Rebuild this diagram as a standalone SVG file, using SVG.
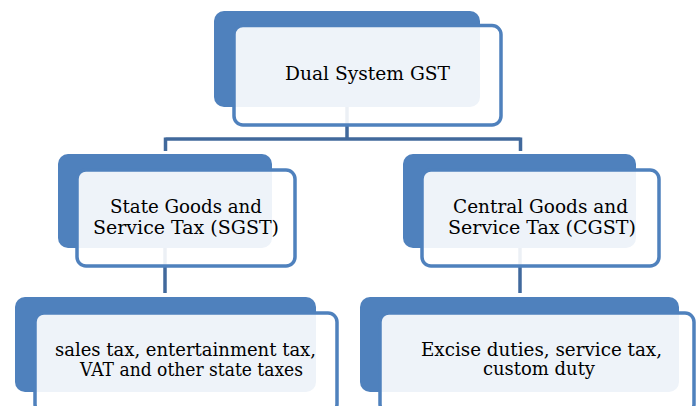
<svg xmlns="http://www.w3.org/2000/svg" width="696" height="406" viewBox="0 0 696 406">
<style>
.back{fill:#4F81BD;}
.front{fill:#FFFFFF;fill-opacity:0.9;stroke:#4F81BD;stroke-width:3.5;}
.conn{fill:none;stroke:#41699C;stroke-width:3.5;}
.lbl{font-family:"DejaVu Serif","Liberation Serif",serif;font-size:18px;fill:#000;}
</style>
<rect width="696" height="406" fill="#FFFFFF"/>
<g id="connectors">
<path class="conn" d="M347,107 V139 M165.5,139 H520.5 M165.5,137.5 V151 M520.5,137.5 V151"/>
<path class="conn" d="M165,248 V293"/>
<path class="conn" d="M520,248 V293"/>
</g>
<g id="gst">
<rect class="back" x="214" y="11" width="266" height="96" rx="10"/>
<rect class="front" x="234" y="25.5" width="267" height="99.5" rx="9"/>
<text class="lbl" x="285" y="80" textLength="165" lengthAdjust="spacingAndGlyphs">Dual System GST</text>
</g>
<g id="sgst">
<rect class="back" x="58" y="154" width="214" height="94" rx="10"/>
<rect class="front" x="77" y="170" width="218" height="96" rx="9"/>
<text class="lbl" x="110" y="213" textLength="152" lengthAdjust="spacingAndGlyphs">State Goods and</text>
<text class="lbl" x="93" y="234" textLength="186" lengthAdjust="spacingAndGlyphs">Service Tax (SGST)</text>
</g>
<g id="cgst">
<rect class="back" x="403" y="154" width="233" height="94" rx="10"/>
<rect class="front" x="422" y="170" width="237" height="96" rx="9"/>
<text class="lbl" x="453" y="213" textLength="175" lengthAdjust="spacingAndGlyphs">Central Goods and</text>
<text class="lbl" x="448" y="234" textLength="188" lengthAdjust="spacingAndGlyphs">Service Tax (CGST)</text>
</g>
<g id="state-taxes">
<rect class="back" x="15" y="297" width="301" height="95" rx="10"/>
<rect class="front" x="35" y="313" width="302" height="100" rx="9"/>
<text class="lbl" x="55" y="356" textLength="261" lengthAdjust="spacingAndGlyphs">sales tax, entertainment tax,</text>
<text class="lbl" x="80" y="376" textLength="223" lengthAdjust="spacingAndGlyphs">VAT and other state taxes</text>
</g>
<g id="central-taxes">
<rect class="back" x="360" y="297" width="319" height="95" rx="10"/>
<rect class="front" x="380" y="313" width="314" height="100" rx="9"/>
<text class="lbl" x="421" y="356" textLength="241" lengthAdjust="spacingAndGlyphs">Excise duties, service tax,</text>
<text class="lbl" x="483" y="375" textLength="112" lengthAdjust="spacingAndGlyphs">custom duty</text>
</g>
</svg>
